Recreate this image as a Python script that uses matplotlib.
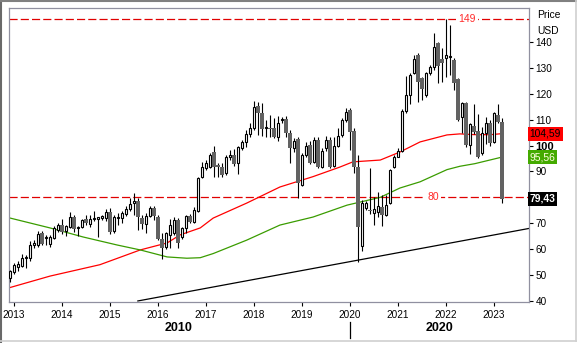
import numpy as np
import pandas as pd
import matplotlib
matplotlib.use("Agg")
import matplotlib.pyplot as plt
from matplotlib.lines import Line2D

plt.rcParams['font.family'] = ['Liberation Sans', 'DejaVu Sans']

# monthly candles, Dec 2012 .. Mar 2023
opens = [48.9, 51.2, 53.1, 53.5, 56.4, 56.6, 61.6, 61.6, 66.3, 64.4, 62.0, 64.3, 67.4,
         69.3, 67.0, 68.6, 72.4, 68.2, 68.6, 71.7, 69.7, 71.6, 71.7, 72.2, 72.0,
         74.4, 67.0, 72.0, 72.0, 73.6, 75.5, 77.9, 78.6, 72.0, 69.7, 72.8, 76.0,
         72.4, 64.0, 60.8, 65.5, 66.3, 71.3, 64.7, 68.2, 72.8, 70.5, 74.7, 87.9,
         91.3, 91.7, 97.5, 92.3, 91.7, 89.4, 95.6, 96.4, 93.3, 99.1, 101.4, 104.5,
         106.8, 115.3, 112.6, 106.6, 106.8, 106.8, 103.3, 109.7, 110.3, 104.9, 99.1, 102.5,
         84.8, 96.4, 100.4, 93.7, 102.0, 91.7, 99.0, 102.0, 92.0, 100.0, 104.0, 110.0,
         113.7, 105.6, 91.7, 61.2, 76.0, 74.9, 74.0, 74.3, 76.3, 73.2, 77.8, 91.7,
         95.6, 97.9, 113.4, 119.5, 128.0, 135.0, 126.0, 119.5, 128.0, 130.3, 139.6, 133.4,
         133.8, 134.0, 133.0, 125.7, 111.0, 116.4, 100.4, 107.6, 105.6, 97.1, 104.9, 108.7,
         101.4, 111.8, 109.1]
highs = [52.0, 54.5, 55.5, 58.0, 57.8, 63.0, 63.5, 67.0, 67.0, 65.6, 65.6, 69.0, 70.0,
         71.7, 69.5, 74.5, 73.0, 68.8, 71.8, 73.0, 73.2, 74.7, 72.5, 73.2, 75.5,
         75.7, 73.2, 74.0, 74.6, 76.8, 79.7, 81.5, 79.7, 73.2, 74.0, 76.8, 76.7,
         73.2, 66.3, 66.6, 71.7, 72.4, 72.0, 68.6, 73.2, 73.6, 76.3, 87.9, 93.7,
         94.4, 97.1, 99.8, 93.3, 93.3, 96.4, 98.3, 98.7, 99.8, 102.2, 106.0, 108.7,
         117.2, 116.8, 116.4, 109.9, 111.8, 110.7, 111.4, 111.0, 111.4, 106.0, 102.9, 103.3,
         97.1, 101.4, 101.8, 103.3, 103.3, 99.1, 103.7, 103.3, 103.3, 106.8, 110.7, 114.5,
         114.5, 106.8, 96.4, 79.0, 78.5, 91.4, 80.0, 82.0, 81.0, 81.0, 91.0, 96.4,
         99.0, 114.0, 126.9, 128.0, 135.0, 135.8, 126.5, 128.4, 131.0, 143.5, 140.0, 137.7,
         148.9, 146.6, 133.8, 126.0, 116.8, 116.8, 108.7, 116.0, 112.2, 107.2, 111.0, 109.9,
         113.0, 116.0, 110.7]
lows = [47.5, 50.5, 51.5, 53.0, 52.7, 55.6, 60.5, 60.7, 61.5, 61.6, 61.0, 63.9, 66.5,
        65.8, 65.0, 68.2, 66.8, 65.0, 68.0, 69.3, 68.6, 70.9, 64.7, 71.3, 70.7,
        65.8, 66.3, 69.3, 70.1, 72.8, 74.7, 73.0, 67.4, 67.8, 66.3, 72.4, 71.3,
        63.5, 56.2, 60.0, 60.5, 65.5, 60.5, 63.9, 66.3, 70.1, 70.1, 74.4, 87.5,
        90.6, 91.3, 87.9, 87.9, 87.9, 88.6, 94.4, 92.1, 89.0, 98.3, 99.5, 103.3,
        106.0, 104.0, 103.7, 103.3, 103.3, 102.9, 101.8, 108.7, 103.3, 93.4, 97.5, 79.8,
        84.4, 95.6, 92.9, 93.3, 91.3, 91.3, 98.0, 91.3, 91.7, 99.5, 103.3, 109.1,
        98.3, 89.4, 55.1, 59.3, 75.3, 73.5, 69.5, 72.4, 69.0, 72.8, 77.4, 91.3,
        95.6, 97.5, 112.6, 116.0, 127.6, 116.8, 117.6, 118.8, 127.3, 129.2, 124.2, 124.6,
        126.5, 127.3, 121.5, 109.5, 104.9, 99.5, 96.8, 104.5, 95.2, 96.4, 100.6, 100.0,
        101.0, 108.7, 77.8]
closes = [51.6, 53.9, 54.3, 56.6, 57.0, 61.6, 62.3, 65.9, 62.0, 64.8, 64.7, 68.2, 69.3,
          66.6, 69.0, 72.4, 67.8, 68.6, 71.3, 70.1, 71.7, 72.0, 72.4, 72.8, 74.4,
          66.6, 72.4, 72.3, 74.0, 75.5, 77.5, 78.4, 72.4, 69.7, 72.8, 76.0, 72.8,
          63.9, 60.5, 66.3, 69.3, 71.3, 62.4, 68.2, 72.8, 70.5, 75.0, 87.5, 91.7,
          93.3, 96.4, 91.7, 91.7, 88.6, 95.6, 96.2, 93.0, 99.5, 101.4, 104.5, 106.8,
          115.0, 112.6, 106.4, 107.2, 106.4, 103.3, 108.7, 110.3, 104.9, 99.1, 101.8, 85.6,
          96.4, 100.0, 93.3, 102.0, 91.7, 97.9, 102.0, 91.7, 100.0, 103.7, 109.9, 113.0,
          105.3, 91.7, 68.6, 77.9, 77.9, 74.6, 75.5, 76.7, 73.2, 77.0, 90.6, 95.6,
          97.9, 113.4, 119.5, 127.3, 133.4, 124.6, 121.8, 128.0, 130.3, 138.0, 130.7, 132.0,
          135.0, 134.6, 124.2, 109.9, 116.4, 100.4, 108.3, 105.3, 95.6, 104.9, 108.7, 101.0,
          112.6, 109.1, 79.43]

# moving averages (year, value)
ma_red_dates = [2012.92, 2013.75, 2014.79, 2015.63, 2016.19, 2016.46, 2016.88, 2017.15,
                2017.85, 2018.54, 2019.23, 2019.79, 2020.06, 2020.63, 2021.04, 2021.46,
                2022.02, 2022.29, 2022.60, 2022.92, 2023.17]
ma_red = [45.2, 49.6, 54.0, 59.7, 62.4, 65.5, 68.2, 72.0, 77.8, 84.0, 88.0, 91.7,
          93.7, 94.4, 97.5, 101.4, 104.1, 104.5, 104.2, 104.2, 104.59]
ma_green_dates = [2012.92, 2013.75, 2014.44, 2015.15, 2015.63, 2016.19, 2016.60, 2016.88,
                  2017.15, 2017.85, 2018.54, 2019.23, 2019.94, 2020.63, 2021.04, 2021.46,
                  2022.02, 2022.29, 2022.60, 2023.17]
ma_green = [72.0, 68.2, 64.7, 61.6, 59.7, 57.0, 56.5, 56.7, 58.3, 63.5, 69.3, 72.4,
            77.0, 80.0, 83.6, 86.0, 90.7, 92.0, 93.0, 95.56]

# support trend line
trend_dates = [2015.58, 2023.73]
trend_values = [40.0, 68.0]

levels = [149, 80]
level_label_x = [2022.44, 2021.73]
year_ticks = list(range(2013, 2024))
price_ticks = list(range(40, 150, 10))

months = pd.date_range('2012-12-01', periods=len(closes), freq='MS')
x = np.array(months.year + (months.month - 1) / 12.0)
o = np.array(opens); h = np.array(highs); l = np.array(lows); c = np.array(closes)

fig = plt.figure(figsize=(5.77, 3.43), dpi=100)
ax = fig.add_axes([9/577, 41/343, 520/577, 294/343])

# level lines with their labels
for lv, lx in zip(levels, level_label_x):
    ax.axhline(lv, color='#e00000', lw=0.9, dashes=(6.5, 2.5), zorder=1)
    ax.text(lx, lv, str(lv), color='#ff2a2a', fontsize=7.5, ha='center', va='center',
            bbox=dict(boxstyle='square,pad=0.25', fc='white', ec='none'), zorder=1.5)

ax.plot(trend_dates, trend_values, color='black', lw=0.9, zorder=2)
ax.plot(ma_red_dates, ma_red, color='#ff0000', lw=0.9, zorder=2)
ax.plot(ma_green_dates, ma_green, color='#3a9c00', lw=0.9, zorder=2)

# candles
up = c >= o
ax.vlines(x, l, h, color='black', lw=0.8, zorder=3)
ax.bar(x[up], np.maximum(c[up] - o[up], 0.35), bottom=o[up], width=0.058,
       facecolor='white', edgecolor='black', lw=0.8, zorder=4)
ax.bar(x[~up], np.maximum(o[~up] - c[~up], 0.35), bottom=c[~up], width=0.07,
       color='#626262', lw=0, zorder=4)

ax.set_xlim(2012.896, 2023.729)
ax.set_ylim(39.6, 153.1)

ax.yaxis.tick_right()
ax.set_yticks(price_ticks)
ax.set_yticklabels(['' if p == 80 else str(p) for p in price_ticks])
ax.set_xticks(year_ticks)
ax.set_xticklabels([str(y) for y in year_ticks])
ax.tick_params(axis='y', direction='out', length=3, width=0.8, pad=1.5, labelsize=7.2)
ax.tick_params(axis='x', direction='out', length=3, width=0.8, pad=2.5, labelsize=7.2)
for lab in ax.get_yticklabels():
    if lab.get_text() == '100':
        lab.set_fontweight('bold')
        lab.set_fontsize(8)
for sp in ax.spines.values():
    sp.set_color('#9090a0')
    sp.set_linewidth(0.9)

# price tags on the right axis
tags = [(104.59, '104,59', '#ff0000', 'black', 'normal'),
        (95.56, '95,56', '#44aa00', '#ffffe0', 'normal'),
        (79.43, '79,43', 'black', 'white', 'bold')]
for val, txt, fc, tc, fw in tags:
    ax.text(1.001, val, txt, transform=ax.get_yaxis_transform(), ha='left', va='center',
            fontsize=7.4, color=tc, fontweight=fw, clip_on=False, zorder=6,
            bbox=dict(boxstyle='square,pad=0.18', fc=fc, ec='none'))

fig.text(537/577, 1 - 15/343, 'Price', fontsize=7.4, ha='left', va='center')
fig.text(537/577, 1 - 31/343, 'USD', fontsize=7.4, ha='left', va='center')

# decade labels
fig.text(179/577, 1 - 328/343, '2010', fontsize=9, fontweight='bold', ha='center', va='center')
fig.text(439/577, 1 - 328/343, '2020', fontsize=9, fontweight='bold', ha='center', va='center')
fig.add_artist(Line2D([349.5/577, 349.5/577], [1 - 322/343, 1 - 338/343],
                      transform=fig.transFigure, color='black', lw=0.9))

# window frame
fig.add_artist(Line2D([0.5/577, 0.5/577], [0, 1], transform=fig.transFigure, color='#696969', lw=1.5))
fig.add_artist(Line2D([0, 1], [1 - 0.5/343, 1 - 0.5/343], transform=fig.transFigure, color='#808080', lw=1.5))
fig.add_artist(Line2D([0, 1], [1 - 340.5/343, 1 - 340.5/343], transform=fig.transFigure, color='#d0d0d0', lw=1.2))
fig.add_artist(Line2D([575.5/577, 575.5/577], [1 - 340.5/343, 1], transform=fig.transFigure, color='#d0d0d0', lw=1.2))

fig.savefig('out.png', dpi=100)
